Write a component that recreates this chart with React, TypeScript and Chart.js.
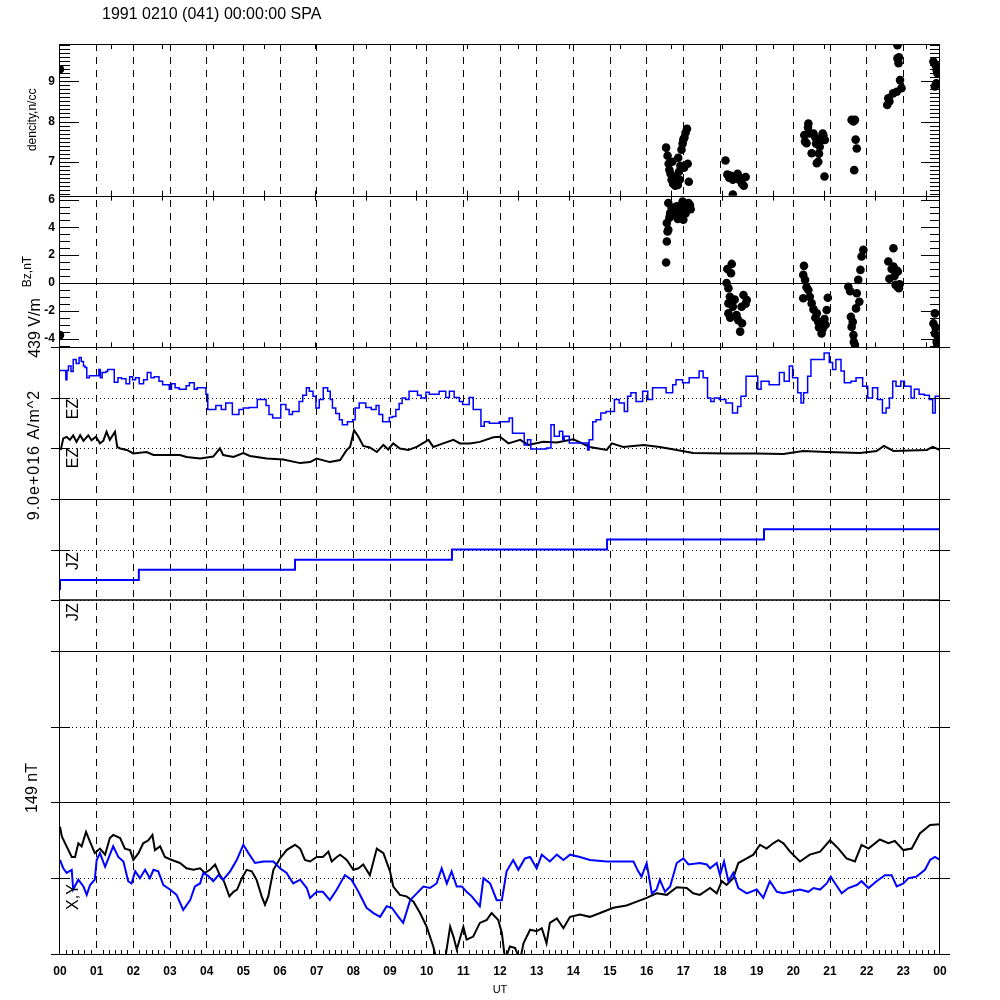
import React, { useEffect, useRef } from 'react';
import { Chart, registerables } from 'chart.js';

Chart.register(...registerables);

const FONT = '"Liberation Sans", Arial, Helvetica, sans-serif';
const BLUE = '#0000ff';
const BLACK = '#000000';

const TITLE = '1991 0210 (041) 00:00:00 SPA';
const HOUR_TICKS = [0, 1, 2, 3, 4, 5, 6, 7, 8, 9, 10, 11, 12, 13, 14, 15, 16, 17, 18, 19, 20, 21, 22, 23, 24];
const HOUR_LABELS = ['00', '01', '02', '03', '04', '05', '06', '07', '08', '09', '10', '11', '12', '13', '14', '15', '16', '17', '18', '19', '20', '21', '22', '23', '00'];
const DENSITY_TICKS = [7, 8, 9];
const BZ_TICKS = [-4, -2, 0, 2, 4, 6];
const DENSITY_RANGE = [6.155, 9.928];
const BZ_RANGE = [-4.63, 6.28];

// density, n/cc  [UT hour, value]
const density = [
  [0.0, 9.3],
  [16.53, 7.35], [16.57, 7.15], [16.6, 6.95], [16.62, 6.8], [16.65, 6.7], [16.68, 6.55], [16.7, 7.0], [16.72, 6.45],
  [16.75, 6.62], [16.78, 6.4], [16.82, 6.5], [16.85, 6.42], [16.88, 6.75], [16.9, 6.55], [16.92, 6.9], [16.95, 7.3],
  [16.98, 7.45], [17.0, 7.55], [17.03, 7.6], [17.06, 7.72], [17.1, 7.82], [17.12, 6.95], [17.15, 6.5], [17.02, 6.85], [16.86, 7.1],
  [18.15, 7.03], [18.2, 6.68], [18.25, 6.6], [18.3, 6.65], [18.35, 6.55], [18.42, 6.62], [18.48, 6.7], [18.55, 6.6],
  [18.6, 6.45], [18.65, 6.4], [18.7, 6.62], [18.35, 6.18], [18.52, 6.55],
  [20.3, 7.66], [20.32, 7.5], [20.36, 7.46], [20.41, 7.95], [20.45, 7.7], [20.5, 7.21], [20.55, 7.7], [20.6, 7.6],
  [20.64, 6.96], [20.68, 7.0], [20.72, 7.37], [20.76, 7.55], [20.8, 7.7], [20.82, 7.66], [20.86, 7.54], [20.85, 6.63],
  [20.4, 7.85], [20.62, 7.45], [20.7, 7.2],
  [21.59, 8.04], [21.64, 8.0], [21.68, 8.04], [21.7, 7.55], [21.73, 7.33], [21.66, 6.79],
  [22.56, 8.41], [22.59, 8.58], [22.62, 8.5], [22.72, 8.7], [22.82, 8.74], [22.84, 9.57], [22.84, 9.9], [22.87, 9.45],
  [22.91, 9.03], [22.95, 8.83], [22.88, 9.6],
  [23.82, 9.49], [23.86, 8.87], [23.88, 9.4], [23.9, 8.95], [23.91, 9.28], [23.93, 9.2], [23.95, 9.35],
];

// Bz, nT  [UT hour, value]
const bz = [
  [0.0, -3.75],
  [16.53, 1.47], [16.55, 2.98], [16.55, 4.31], [16.57, 3.7], [16.59, 3.83], [16.59, 5.75], [16.62, 4.7], [16.64, 5.03],
  [16.68, 5.4], [16.72, 4.9], [16.76, 5.3], [16.82, 5.51], [16.85, 4.6], [16.88, 5.2], [16.91, 5.03], [16.95, 5.6],
  [17.0, 4.55], [17.03, 5.2], [17.06, 5.0], [17.1, 5.5], [17.14, 5.75], [17.18, 5.6], [17.2, 5.3], [16.98, 5.85],
  [18.18, 0.0], [18.2, 1.0], [18.23, -0.38], [18.23, -1.47], [18.23, -2.19], [18.27, -0.99], [18.3, 0.7], [18.32, 1.37],
  [18.35, -1.7], [18.4, -1.2], [18.45, -2.3], [18.5, -2.67], [18.55, -3.5], [18.59, -1.71], [18.64, -0.87], [18.7, -1.5],
  [18.73, -1.23], [18.6, -2.9], [18.28, -2.5],
  [20.27, 0.58], [20.27, -1.1], [20.29, 1.23], [20.32, 0.22], [20.36, -0.3], [20.41, -0.5], [20.45, -1.0], [20.5, -1.47],
  [20.55, -1.9], [20.6, -2.5], [20.64, -2.19], [20.68, -2.8], [20.7, -3.2], [20.73, -3.03], [20.77, -3.63], [20.8, -3.3],
  [20.85, -2.6], [20.91, -1.95], [20.94, -1.06], [20.88, -3.0],
  [21.5, -0.27], [21.57, -2.43], [21.59, -3.16], [21.62, -2.8], [21.64, -3.75], [21.65, -4.24], [21.68, -4.45], [21.71, -1.83],
  [21.73, -0.74], [21.77, 0.22], [21.8, -1.35], [21.83, 0.94], [21.86, 1.9], [21.91, 2.38], [21.55, -0.6],
  [22.59, 1.54], [22.62, 0.3], [22.68, 1.0], [22.73, 2.5], [22.73, 1.18], [22.76, 0.5], [22.79, -0.14], [22.82, 0.9],
  [22.85, 0.82], [22.88, -0.38], [22.9, -0.1], [22.85, -0.3],
  [23.82, -2.91], [23.86, -2.19], [23.86, -3.63], [23.88, -3.2], [23.91, -4.24], [23.93, -4.5], [23.95, -3.9],
];

// EZ (blue), deviation from its baseline in panel divisions
const ezBlue = [
  [0.0, 0.54], [0.16, 0.54], [0.19, 0.36], [0.23, 0.54], [0.3, 0.63], [0.36, 0.52], [0.44, 0.76], [0.52, 0.68], [0.58, 0.8],
  [0.64, 0.72], [0.68, 0.63], [0.73, 0.6], [0.8, 0.4], [1.06, 0.44], [1.1, 0.56], [1.15, 0.4], [1.25, 0.5], [1.3, 0.52],
  [1.48, 0.56], [1.58, 0.31], [1.68, 0.4], [1.8, 0.38], [1.9, 0.28], [1.98, 0.42], [2.06, 0.36], [2.16, 0.4], [2.28, 0.28],
  [2.38, 0.36], [2.48, 0.5], [2.57, 0.4], [2.7, 0.42], [2.8, 0.33], [2.98, 0.26], [3.04, 0.17], [3.14, 0.28], [3.25, 0.2],
  [3.44, 0.17], [3.53, 0.24], [3.66, 0.3], [3.74, 0.17], [3.8, 0.2], [3.98, 0.2], [4.03, 0.07], [4.25, -0.23], [4.4, -0.15],
  [4.52, -0.23], [4.7, -0.1], [4.88, -0.33], [5.0, -0.23], [5.16, -0.2], [5.38, -0.19], [5.62, -0.03], [5.7, -0.15],
  [5.8, -0.33], [6.02, -0.4], [6.16, -0.13], [6.25, -0.23], [6.34, -0.33], [6.52, -0.27], [6.62, -0.07], [6.72, 0.05],
  [6.8, 0.2], [6.9, 0.13], [6.98, 0.03], [7.07, -0.2], [7.18, -0.03], [7.3, 0.2], [7.37, 0.13], [7.43, -0.03], [7.52, -0.2],
  [7.62, -0.31], [7.7, -0.43], [7.84, -0.53], [7.98, -0.47], [8.05, -0.43], [8.16, -0.2], [8.34, -0.1], [8.49, -0.19],
  [8.62, -0.23], [8.7, -0.15], [8.8, -0.33], [8.98, -0.47], [9.06, -0.39], [9.16, -0.37], [9.25, -0.23], [9.33, -0.11],
  [9.43, 0.0], [9.52, -0.03], [9.63, 0.13], [9.75, 0.13], [9.85, 0.05], [9.98, 0.0], [10.07, 0.11], [10.16, 0.07],
  [10.34, 0.07], [10.52, 0.13], [10.62, 0.01], [10.75, 0.13], [10.89, 0.01], [10.98, -0.07], [11.16, -0.13], [11.27, 0.01],
  [11.48, -0.23], [11.57, -0.56], [11.71, -0.47], [11.98, -0.5], [12.25, -0.47], [12.34, -0.4], [12.66, -0.7], [12.75, -0.93],
  [12.84, -0.83], [13.27, -1.01], [13.39, -0.99], [13.48, -0.53], [13.62, -0.76], [13.71, -0.66], [13.75, -0.83],
  [13.89, -0.76], [14.39, -0.89], [14.43, -1.03], [14.53, -0.83], [14.62, -0.47], [14.75, -0.43], [14.89, -0.3],
  [15.12, -0.27], [15.25, -0.03], [15.39, -0.1], [15.48, -0.27], [15.57, 0.03], [15.71, 0.1], [15.89, -0.07], [16.03, 0.13],
  [16.16, -0.03], [16.25, 0.2], [16.53, 0.2], [16.71, 0.1], [16.8, 0.26], [16.98, 0.36], [17.16, 0.3], [17.43, 0.4],
  [17.54, 0.53], [17.66, 0.4], [17.75, 0.0], [17.84, -0.07], [17.98, 0.0], [18.16, -0.03], [18.34, -0.1], [18.48, -0.3],
  [18.57, -0.17], [18.71, 0.03], [19.03, 0.43], [19.12, 0.17], [19.34, 0.33], [19.62, 0.26], [19.75, 0.5], [19.89, 0.33],
  [19.98, 0.63], [20.12, 0.4], [20.21, 0.1], [20.28, -0.1], [20.39, 0.1], [20.48, 0.43], [20.84, 0.76], [20.98, 0.89],
  [21.07, 0.7], [21.16, 0.56], [21.3, 0.76], [21.39, 0.53], [21.57, 0.3], [21.71, 0.33], [21.89, 0.4], [22.03, 0.23],
  [22.16, 0.0], [22.3, 0.2], [22.43, -0.03], [22.53, -0.3], [22.62, -0.2], [22.71, 0.0], [22.8, 0.33], [22.93, 0.23],
  [23.03, 0.33], [23.21, 0.23], [23.3, 0.0], [23.43, 0.17], [23.57, 0.07], [23.71, 0.05], [23.8, -0.03], [23.87, -0.3],
  [23.93, 0.03], [24.0, 0.03],
];

// EZ (black), deviation from its baseline in panel divisions
const ezBlack = [
  [0.02, -0.03], [0.09, 0.2], [0.18, 0.23], [0.27, 0.17], [0.36, 0.26], [0.45, 0.13], [0.55, 0.26], [0.64, 0.15],
  [0.77, 0.26], [0.86, 0.16], [0.98, 0.23], [1.09, 0.1], [1.18, 0.15], [1.27, 0.33], [1.36, 0.17], [1.5, 0.33], [1.56, 0.03],
  [1.64, 0.0], [1.82, -0.03], [2.0, -0.1], [2.36, -0.07], [2.55, -0.13], [2.91, -0.13], [3.27, -0.13], [3.45, -0.17],
  [3.82, -0.2], [4.18, -0.16], [4.36, 0.0], [4.45, -0.13], [4.73, -0.17], [5.0, -0.09], [5.18, -0.15], [5.64, -0.2],
  [6.09, -0.22], [6.55, -0.29], [6.82, -0.27], [7.0, -0.2], [7.36, -0.27], [7.64, -0.23], [7.82, -0.03], [7.91, 0.03],
  [8.02, 0.36], [8.14, 0.23], [8.27, 0.05], [8.45, 0.02], [8.64, -0.07], [8.82, 0.07], [8.95, -0.02], [9.09, 0.1], [9.27, 0.0],
  [9.5, -0.03], [9.73, 0.03], [10.05, 0.17], [10.18, 0.03], [10.45, 0.1], [10.73, 0.17], [10.91, 0.1], [11.18, 0.1],
  [11.45, 0.13], [11.82, 0.22], [12.0, 0.23], [12.23, 0.1], [12.55, 0.17], [12.77, 0.07], [13.18, 0.13], [13.55, 0.12],
  [14.0, 0.18], [14.45, 0.03], [14.91, -0.03], [15.05, 0.1], [15.36, 0.03], [15.91, 0.07], [16.36, 0.03], [16.82, -0.03],
  [17.27, -0.09], [18.18, -0.1], [19.0, -0.1], [19.73, -0.11], [20.27, -0.05], [20.91, -0.07], [21.82, -0.09], [22.27, -0.05],
  [22.47, 0.05], [22.73, -0.05], [23.64, -0.03], [23.8, 0.03], [24.0, -0.03],
];

// JZ traces, deviation from their baselines in panel divisions
const jzBlue = [[0, -0.8], [2.15, -0.6], [6.41, -0.4], [10.69, -0.2], [14.92, 0.0], [19.2, 0.2], [23.45, 0.4], [24, 0.4]];
const jzBlack = [[0, 0], [24, 0]];

// X (black) and Y (blue) magnetic components, in panel half-heights
const magX = [
  [0.0, 0.68], [0.05, 0.55], [0.18, 0.42], [0.32, 0.28], [0.41, 0.28], [0.5, 0.46], [0.59, 0.42], [0.71, 0.61], [0.82, 0.48],
  [0.95, 0.33], [1.09, 0.39], [1.23, 0.31], [1.36, 0.53], [1.45, 0.57], [1.64, 0.53], [1.77, 0.39], [1.91, 0.37], [2.0, 0.24],
  [2.14, 0.33], [2.27, 0.46], [2.41, 0.5], [2.52, 0.57], [2.59, 0.37], [2.73, 0.42], [2.86, 0.28], [3.05, 0.24], [3.27, 0.2],
  [3.45, 0.13], [3.64, 0.11], [3.82, 0.13], [3.95, 0.07], [4.09, 0.11], [4.23, 0.18], [4.36, 0.04], [4.47, -0.04],
  [4.62, -0.24], [4.73, -0.18], [4.83, -0.15], [4.96, 0.0], [5.09, 0.11], [5.23, 0.09], [5.36, -0.02], [5.5, -0.24],
  [5.59, -0.35], [5.68, -0.24], [5.82, 0.11], [6.0, 0.26], [6.18, 0.37], [6.41, 0.44], [6.55, 0.39], [6.68, 0.24],
  [6.82, 0.22], [7.0, 0.28], [7.17, 0.28], [7.32, 0.35], [7.41, 0.22], [7.55, 0.28], [7.64, 0.31], [7.82, 0.24], [8.0, 0.11],
  [8.14, 0.13], [8.27, 0.18], [8.45, 0.04], [8.64, 0.39], [8.82, 0.33], [9.0, 0.09], [9.09, -0.11], [9.27, -0.22],
  [9.45, -0.24], [9.64, -0.31], [9.82, -0.46], [10.0, -0.64], [10.18, -0.9], [10.27, -1.08], [10.5, -1.08], [10.64, -0.64],
  [10.73, -0.77], [10.82, -0.94], [11.0, -0.64], [11.09, -0.81], [11.27, -0.77], [11.45, -0.59], [11.64, -0.55],
  [11.77, -0.46], [11.95, -0.55], [12.05, -0.72], [12.14, -1.08], [12.27, -0.9], [12.41, -0.92], [12.55, -1.08],
  [12.64, -0.86], [12.82, -0.68], [13.0, -0.7], [13.14, -0.66], [13.27, -0.86], [13.36, -0.59], [13.55, -0.53],
  [13.73, -0.66], [13.91, -0.51], [14.18, -0.48], [14.45, -0.51], [14.73, -0.46], [15.09, -0.39], [15.45, -0.36],
  [15.73, -0.31], [16.0, -0.26], [16.27, -0.2], [16.55, -0.22], [16.82, -0.12], [17.09, -0.13], [17.27, -0.2], [17.45, -0.22],
  [17.73, -0.13], [17.91, -0.2], [18.05, -0.04], [18.18, -0.09], [18.36, 0.0], [18.5, 0.2], [18.73, 0.26], [18.91, 0.31],
  [19.09, 0.44], [19.27, 0.39], [19.45, 0.46], [19.59, 0.5], [19.73, 0.46], [19.91, 0.35], [20.18, 0.22], [20.45, 0.31],
  [20.73, 0.35], [21.0, 0.5], [21.23, 0.39], [21.45, 0.26], [21.68, 0.22], [21.86, 0.44], [22.05, 0.39], [22.36, 0.51],
  [22.59, 0.46], [22.77, 0.49], [23.0, 0.37], [23.23, 0.39], [23.45, 0.59], [23.73, 0.7], [24.0, 0.71],
];

const magY = [
  [0.0, 0.24], [0.09, 0.13], [0.18, 0.07], [0.32, 0.11], [0.36, -0.15], [0.5, -0.02], [0.64, -0.11], [0.73, -0.22],
  [0.82, -0.09], [0.95, -0.02], [1.0, 0.24], [1.09, 0.33], [1.23, 0.15], [1.32, 0.26], [1.45, 0.42], [1.59, 0.28], [1.73, 0.22],
  [1.86, -0.04], [1.95, -0.07], [2.05, 0.09], [2.18, 0.0], [2.32, 0.11], [2.45, 0.0], [2.55, 0.11], [2.68, 0.09], [2.82, -0.09],
  [3.0, -0.15], [3.18, -0.22], [3.36, -0.42], [3.55, -0.29], [3.68, -0.11], [3.82, -0.07], [3.91, 0.07], [4.04, 0.03],
  [4.18, -0.04], [4.32, 0.04], [4.45, -0.02], [4.64, 0.09], [4.82, 0.24], [5.0, 0.44], [5.14, 0.33], [5.32, 0.2], [5.55, 0.22],
  [5.82, 0.22], [6.0, 0.13], [6.18, 0.07], [6.36, -0.07], [6.55, -0.02], [6.73, -0.13], [6.82, -0.26], [7.0, -0.18],
  [7.17, -0.18], [7.36, -0.29], [7.55, -0.15], [7.77, 0.04], [7.95, -0.02], [8.14, -0.18], [8.36, -0.39], [8.55, -0.46],
  [8.73, -0.51], [8.91, -0.37], [9.05, -0.39], [9.23, -0.51], [9.36, -0.59], [9.55, -0.29], [9.73, -0.2], [9.91, -0.11],
  [10.09, -0.13], [10.27, -0.07], [10.41, 0.13], [10.55, -0.07], [10.68, 0.09], [10.82, -0.11], [10.96, -0.11],
  [11.09, -0.18], [11.23, -0.24], [11.45, -0.37], [11.55, 0.0], [11.73, -0.07], [11.91, -0.29], [12.05, -0.29], [12.18, 0.09],
  [12.36, 0.24], [12.5, 0.11], [12.68, 0.26], [12.82, 0.28], [13.0, 0.13], [13.14, 0.31], [13.36, 0.22], [13.55, 0.31],
  [13.73, 0.24], [13.91, 0.31], [14.18, 0.28], [14.45, 0.24], [14.91, 0.22], [15.27, 0.22], [15.64, 0.22], [15.77, 0.09],
  [15.86, 0.02], [16.0, 0.2], [16.14, -0.2], [16.27, -0.15], [16.36, -0.02], [16.5, -0.18], [16.64, -0.11], [16.82, 0.2],
  [17.0, 0.26], [17.14, 0.18], [17.45, 0.2], [17.64, 0.18], [17.73, 0.13], [17.91, 0.2], [18.0, 0.04], [18.11, 0.22],
  [18.23, -0.04], [18.36, 0.07], [18.5, -0.13], [18.73, -0.2], [19.0, -0.15], [19.18, -0.26], [19.36, -0.04], [19.55, -0.18],
  [19.73, -0.2], [19.91, -0.18], [20.18, -0.15], [20.41, -0.18], [20.55, -0.13], [20.73, -0.15], [20.91, -0.07],
  [21.02, 0.02], [21.14, -0.07], [21.32, -0.2], [21.5, -0.13], [21.73, -0.09], [21.86, -0.04], [22.05, -0.13],
  [22.27, -0.04], [22.5, 0.04], [22.68, 0.04], [22.82, -0.11], [23.0, -0.07], [23.14, 0.0], [23.36, 0.02], [23.59, 0.11],
  [23.73, 0.24], [23.86, 0.28], [24.0, 0.24],
];

// panel baselines (stacked traces, as in the original plot)
const EZ_BLUE_BASE = 2;
const EZ_BLACK_BASE = 1;
const JZ_BLUE_BASE = 2;
const JZ_BLACK_BASE = 1;

const toPts = (arr: number[][], base = 0) => arr.map(([x, y]) => ({ x, y: y + base }));

const crisp = (v: number) => Math.round(v) + 0.5;
function hline(ctx: CanvasRenderingContext2D, x1: number, x2: number, y: number) {
  ctx.beginPath();
  ctx.moveTo(x1, y);
  ctx.lineTo(x2, y);
  ctx.stroke();
}
function vline(ctx: CanvasRenderingContext2D, x: number, y1: number, y2: number) {
  ctx.beginPath();
  ctx.moveTo(x, y1);
  ctx.lineTo(x, y2);
  ctx.stroke();
}
function rotText(ctx: CanvasRenderingContext2D, text: string, x: number, y: number, font: string, spacing = '0px') {
  ctx.save();
  ctx.translate(x, y);
  ctx.rotate(-Math.PI / 2);
  ctx.font = font;
  (ctx as any).letterSpacing = spacing;
  ctx.textAlign = 'center';
  ctx.textBaseline = 'middle';
  ctx.fillText(text, 0, 0);
  ctx.restore();
}

const decorPlugin = {
  id: 'decor',
  beforeDatasetsDraw(chart: any) {
    const { ctx, chartArea: ca, scales: s } = chart;
    ctx.save();
    ctx.strokeStyle = BLACK;
    ctx.lineWidth = 1;
    ctx.setLineDash([1, 3]);
    const dotted: [any, number][] = [[s.yEz, 1], [s.yEz, 2], [s.yJz, 1], [s.yJz, 2], [s.yEmpty, 0], [s.yMag, 0]];
    for (const [sc, v] of dotted) hline(ctx, ca.left, ca.right, crisp(sc.getPixelForValue(v)));
    ctx.setLineDash([]);
    hline(ctx, ca.left, ca.right, crisp(s.yBz.getPixelForValue(0)));
    ctx.restore();
  },
  afterDatasetsDraw(chart: any) {
    const { ctx, chartArea: ca, scales: s } = chart;
    const L = ca.left;
    const R = ca.right;
    ctx.save();
    ctx.strokeStyle = BLACK;
    ctx.fillStyle = BLACK;
    ctx.lineWidth = 1;
    ctx.setLineDash([]);

    // frame
    vline(ctx, crisp(L) - 1, ca.top, ca.bottom);
    vline(ctx, crisp(R) - 1, ca.top, ca.bottom);
    hline(ctx, L, R, crisp(s.yDen.top));
    hline(ctx, L, R, crisp(s.yDen.bottom));
    for (const sc of [s.yBz, s.yEz, s.yJz, s.yEmpty, s.yMag]) hline(ctx, L - 9, R + 10, crisp(sc.bottom));

    // inward y ticks for density and Bz
    const yt = (sc: any, k0: number, k1: number, step: number, majorEvery: number) => {
      for (let k = k0; k <= k1; k++) {
        const len = k % majorEvery === 0 ? 19 : 10;
        const y = crisp(sc.getPixelForValue(k * step));
        hline(ctx, L, L + len, y);
        hline(ctx, R - len, R, y);
      }
    };
    yt(s.yDen, 62, 99, 0.1, 10);
    yt(s.yBz, -9, 12, 0.5, 4);

    // ticks at the dotted baselines of the stacked panels
    const base: [any, number][] = [[s.yEz, 1], [s.yEz, 2], [s.yJz, 1], [s.yJz, 2], [s.yEmpty, 0], [s.yMag, 0]];
    for (const [sc, v] of base) {
      const y = crisp(sc.getPixelForValue(v));
      hline(ctx, L - 9, L + 10, y);
      hline(ctx, R - 10, R + 10, y);
    }

    // x ticks every 5000 s on the top two panels
    for (let k = 1; k * 5000 / 3600 < 24; k++) {
      const x = crisp(s.x.getPixelForValue(k * 5000 / 3600));
      vline(ctx, x, s.yDen.top, s.yDen.top + 5);
      vline(ctx, x, s.yDen.bottom - 5, s.yDen.bottom + 5);
      vline(ctx, x, s.yBz.bottom - 5, s.yBz.bottom);
    }
    // minor x ticks every 10 min on the bottom axis
    for (let k = 1; k < 144; k++) {
      if (k % 6 === 0) continue;
      const x = crisp(s.x.getPixelForValue(k / 6));
      vline(ctx, x, ca.bottom - 4, ca.bottom);
    }

    // title
    ctx.font = `16px ${FONT}`;
    ctx.textAlign = 'left';
    ctx.textBaseline = 'middle';
    ctx.fillText(TITLE, 102, 15);

    // axis labels
    const midDen = (s.yDen.top + s.yDen.bottom) / 2;
    const midBz = (s.yBz.top + s.yBz.bottom) / 2;
    rotText(ctx, 'dencity,n/cc', 33, midDen, `12px ${FONT}`);
    rotText(ctx, 'Bz,nT', 28, midBz, `12px ${FONT}`);
    rotText(ctx, '439 V/m', 36, 328, `16px ${FONT}`);
    rotText(ctx, '9.0e+016 A/m^2', 35, 455, `16px ${FONT}`, '1px');
    rotText(ctx, '149 nT', 33, 788, `16px ${FONT}`);
    rotText(ctx, 'EZ', 74, 409, `16px ${FONT}`);
    rotText(ctx, 'EZ', 74, 458, `16px ${FONT}`);
    rotText(ctx, 'JZ', 74, 561, `16px ${FONT}`);
    rotText(ctx, 'JZ', 74, 612, `16px ${FONT}`);
    rotText(ctx, 'X,Y', 74, 897, `16px ${FONT}`);
    ctx.restore();
  },
};

const TICK_FONT = { family: FONT, size: 12, weight: 'bold' as const };

function panelAxis(weight: number, min: number, max: number, labels?: number[]) {
  return {
    type: 'linear' as const,
    position: 'left' as const,
    stack: 'panels',
    stackWeight: 1,
    weight,
    min,
    max,
    clip: true,
    afterFit: (sc: any) => { sc.width = 60; },
    afterBuildTicks: labels ? (sc: any) => { sc.ticks = labels.map((v) => ({ value: v })); } : undefined,
    ticks: labels
      ? { display: true, autoSkip: false, padding: 5, color: BLACK, font: TICK_FONT, callback: (v: any) => String(v) }
      : { display: false },
    grid: { display: false, drawTicks: false },
    border: { display: false },
  };
}

export default function App() {
  const ref = useRef<HTMLCanvasElement | null>(null);

  useEffect(() => {
    const canvas = ref.current;
    if (!canvas) return;
    const lineDs = (label: string, data: any[], axis: string, color: string, width: number, stepped: any = false) => ({
      label,
      data,
      yAxisID: axis,
      borderColor: color,
      backgroundColor: color,
      borderWidth: width,
      pointRadius: 0,
      fill: false,
      tension: 0,
      stepped,
      clip: 0,
    });
    const dotDs = (label: string, data: any[], axis: string) => ({
      label,
      data,
      yAxisID: axis,
      showLine: false,
      pointRadius: 4.3,
      pointBorderWidth: 0,
      pointBackgroundColor: BLACK,
      pointBorderColor: BLACK,
      clip: 0,
    });

    const chart = new Chart(canvas, {
      type: 'line',
      data: {
        datasets: [
          dotDs('density', toPts(density), 'yDen'),
          dotDs('Bz', toPts(bz), 'yBz'),
          lineDs('EZ blue', toPts(ezBlue, EZ_BLUE_BASE), 'yEz', BLUE, 1.5, 'after'),
          lineDs('EZ black', toPts(ezBlack, EZ_BLACK_BASE), 'yEz', BLACK, 2),
          lineDs('JZ blue', toPts(jzBlue, JZ_BLUE_BASE), 'yJz', BLUE, 2, 'after'),
          lineDs('JZ black', toPts(jzBlack, JZ_BLACK_BASE), 'yJz', BLACK, 1.5),
          lineDs('Y', toPts(magY), 'yMag', BLUE, 2),
          lineDs('X', toPts(magX), 'yMag', BLACK, 2),
        ],
      } as any,
      options: {
        responsive: false,
        maintainAspectRatio: false,
        animation: false,
        devicePixelRatio: 1,
        events: [],
        layout: { padding: { left: 0, right: 60, top: 44, bottom: 0 } },
        plugins: { legend: { display: false }, tooltip: { enabled: false }, title: { display: false } },
        scales: {
          x: {
            type: 'linear',
            position: 'bottom',
            min: 0,
            max: 24,
            afterFit: (sc: any) => { sc.height = 46; },
            afterBuildTicks: (sc: any) => { sc.ticks = HOUR_TICKS.map((v) => ({ value: v })); },
            ticks: {
              autoSkip: false,
              maxRotation: 0,
              padding: 10,
              color: BLACK,
              font: TICK_FONT,
              callback: (_v: any, i: number) => HOUR_LABELS[i],
            },
            grid: {
              drawTicks: false,
              lineWidth: 1,
              color: (c: any) => (c.tick && (c.tick.value === 0 || c.tick.value === 24) ? 'rgba(0,0,0,0)' : BLACK),
            },
            border: { display: false, dash: [7, 6] },
            title: { display: true, text: 'UT', color: BLACK, font: { family: FONT, size: 11 }, padding: { top: 0, bottom: 3 } },
          },
          yMag: panelAxis(1, -1, 1),
          yEmpty: panelAxis(2, -1, 1),
          yJz: panelAxis(3, 0, 3),
          yEz: panelAxis(4, 0, 3),
          yBz: panelAxis(5, BZ_RANGE[0], BZ_RANGE[1], BZ_TICKS),
          yDen: panelAxis(6, DENSITY_RANGE[0], DENSITY_RANGE[1], DENSITY_TICKS),
        } as any,
      },
      plugins: [decorPlugin as any],
    });
    return () => chart.destroy();
  }, []);

  return (
    <div style={{ position: 'absolute', left: 0, top: 0, width: 1000, height: 1000, background: '#ffffff' }}>
      <canvas ref={ref} width={1000} height={1000} style={{ display: 'block', width: 1000, height: 1000 }} />
    </div>
  );
}
